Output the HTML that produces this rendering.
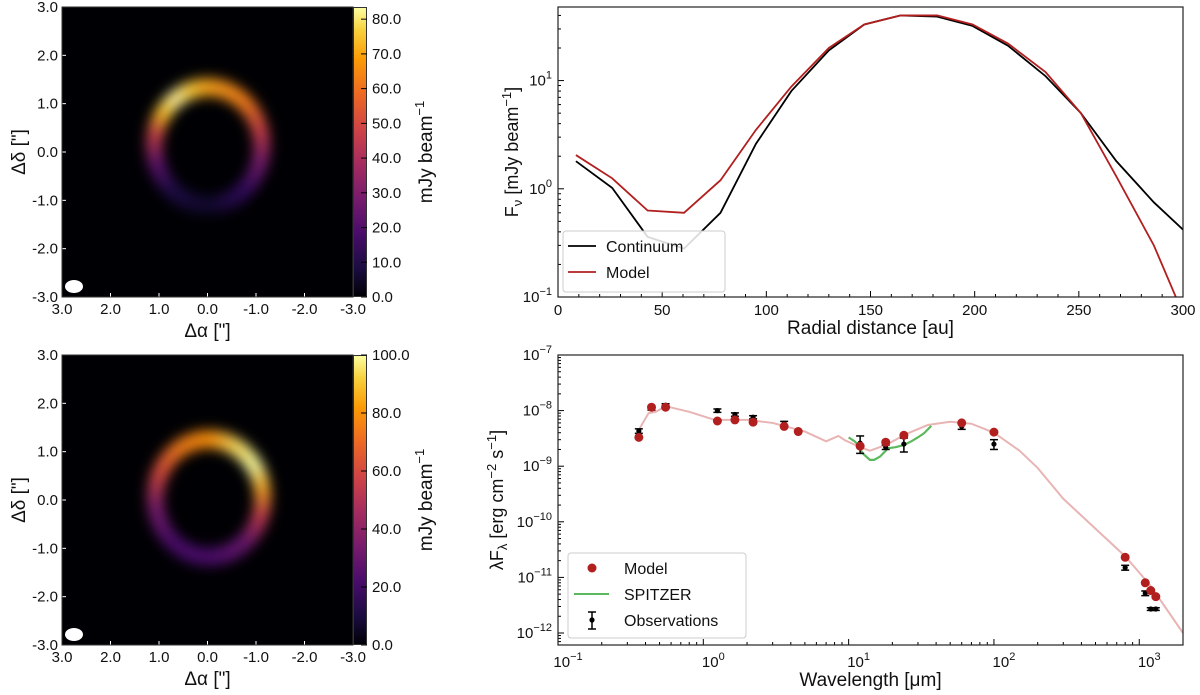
<!DOCTYPE html>
<html><head><meta charset="utf-8">
<style>
body{margin:0;background:#fff;width:1200px;height:695px;overflow:hidden;position:relative;font-family:"Liberation Sans","DejaVu Sans",sans-serif;}
.abs{position:absolute;}
.img{position:absolute;background:#000004;overflow:hidden;}
.ringwrap{position:absolute;filter:blur(6px);}
.ring{width:100%;height:100%;
 -webkit-mask:radial-gradient(ellipse closest-side,transparent 0,transparent 66%,#000 75%,#000 90%,transparent 100%);
 mask:radial-gradient(ellipse closest-side,transparent 0,transparent 66%,#000 75%,#000 90%,transparent 100%);}
.cbar{position:absolute;background:linear-gradient(to top,#000004,#1b0c41 10%,#4a0c6b 22%,#781c6d 34%,#a52c60 46%,#cf4446 58%,#ed6925 70%,#fb9b06 82%,#f7d13d 92%,#fcffa4);}
</style></head><body>

<!-- Top image -->
<div class="img" style="left:62px;top:7px;width:291px;height:290px;">
 <div class="ringwrap" style="left:81px;top:68px;width:130px;height:142px;">
  <div class="ring" style="background:conic-gradient(#f8a01a 0deg,#f17c1b 40deg,#c73e4c 75deg,#7a1d6d 105deg,#320a5e 140deg,#10092d 180deg,#1f0c48 220deg,#5c126e 250deg,#c8404a 282deg,#fbbe23 305deg,#fcf0a0 325deg,#f9c42f 345deg,#f8a01a 360deg);"></div>
 </div>
 <div class="abs" style="left:3px;top:273px;width:18px;height:13px;border-radius:50%;background:#fff;"></div>
</div>
<div class="cbar" style="left:353px;top:7px;width:14px;height:290px;"></div>
<div class="abs" style="left:353px;top:7px;width:14px;height:290px;border:1px solid #333;box-sizing:border-box"></div>

<!-- Bottom image -->
<div class="img" style="left:62px;top:355px;width:291px;height:290px;">
 <div class="ringwrap" style="left:82px;top:72px;width:130px;height:142px;">
  <div class="ring" style="background:conic-gradient(#f98e09 0deg,#fbe26a 30deg,#fcffa4 55deg,#f9a825 80deg,#c13a50 110deg,#6a176e 140deg,#4a0c6b 180deg,#4a0c6b 220deg,#7a1d6d 260deg,#d44842 295deg,#ef7a1a 330deg,#f98e09 360deg);"></div>
 </div>
 <div class="abs" style="left:3px;top:273px;width:18px;height:13px;border-radius:50%;background:#fff;"></div>
</div>
<div class="cbar" style="left:353px;top:355px;width:14px;height:290px;"></div>
<div class="abs" style="left:353px;top:355px;width:14px;height:290px;border:1px solid #333;box-sizing:border-box"></div>

<svg id="svg" width="1200" height="695" style="position:absolute;left:0;top:0" xmlns="http://www.w3.org/2000/svg"></svg>

<script>
// ---- Radial profile data ----
const radii = [8.6,26,43,60.5,78,95,112,130,147,164.5,182,199,216,234,251,268,286,300];
const contVals = [1.8,1.02,0.36,0.28,0.6,2.6,8,19,33,40,39,32,21,11,5,1.8,0.75,0.42];
const modelVals = [2.05,1.25,0.63,0.6,1.2,3.5,8.8,20,33,40,40,33,22,12,5,1.3,0.3,0.07];
const radTicks = [0,50,100,150,200,250,300];
// ---- SED data ----
const modelLam = [0.36,0.44,0.55,1.25,1.65,2.2,3.6,4.5,12,18,24,60,100,800,1100,1200,1300];
const modelF = [3.3e-9,1.15e-8,1.15e-8,6.5e-9,6.8e-9,6.2e-9,5.2e-9,4.2e-9,2.3e-9,2.7e-9,3.6e-9,6e-9,4.1e-9,2.3e-11,8e-12,5.8e-12,4.5e-12];
const obsLam = [0.36,0.44,0.55,1.25,1.65,2.2,3.6,12,18,24,60,100,800,1100,1200,1300];
const obsF = [4.3e-9,1.1e-8,1.25e-8,1.0e-8,8.5e-9,7.6e-9,5.9e-9,2.6e-9,2.2e-9,2.5e-9,5.2e-9,2.5e-9,1.5e-11,5.2e-12,2.7e-12,2.7e-12];
const obsErr = [0.4e-9,0.8e-9,0.8e-9,0.7e-9,0.6e-9,0.5e-9,0.5e-9,0.9e-9,0.2e-9,0.7e-9,0.6e-9,0.5e-9,0.15e-11,0.5e-12,0.15e-12,0.15e-12];
const curveLam = [0.36,0.42,0.47,0.55,0.8,1.2,2,3,5,7,8.5,9.5,12,14,18,25,35,50,70,100,150,200,300,500,800,1200,2000];
const curveF = [4.5e-9,9e-9,9.5e-9,1.2e-8,9.5e-9,6.8e-9,6.8e-9,6e-9,4.2e-9,2.8e-9,3.5e-9,2.9e-9,2.2e-9,1.9e-9,2.4e-9,3.8e-9,5.5e-9,6.3e-9,5.8e-9,4e-9,1.9e-9,9.3e-10,2.6e-10,7.5e-11,2.4e-11,7e-12,1e-12];
const spitLam = [10,11,11.5,12.5,14,15,16.5,18.7,21,24,27,30,33,37];
const spitF = [3.3e-9,2.8e-9,2.5e-9,1.7e-9,1.3e-9,1.3e-9,1.5e-9,2.1e-9,2.2e-9,2.4e-9,2.8e-9,3.3e-9,3.9e-9,5.3e-9];
const imgTicks = [3,2,1,0,-1,-2,-3];
const cb1Ticks = [0,10,20,30,40,50,60,70,80];
const cb2Ticks = [0,20,40,60,80,100];

const NS="http://www.w3.org/2000/svg";
const svg=document.getElementById('svg');
const FF='Liberation Sans, DejaVu Sans, sans-serif';
function el(tag,attrs,parent){const e=document.createElementNS(NS,tag);for(const k in attrs)e.setAttribute(k,attrs[k]);(parent||svg).appendChild(e);return e;}
function txt(s,x,y,size,anchor,parent){const t=el('text',{x:x,y:y,'font-size':size,'text-anchor':anchor||'middle',fill:'#111','font-family':FF},parent);t.textContent=s;return t;}
function sup(base,exp,x,y){const t=el('text',{x:x,y:y,'font-size':15,'text-anchor':'end',fill:'#111','font-family':FF});t.appendChild(document.createTextNode(base));const s=document.createElementNS(NS,'tspan');s.setAttribute('dy','-7');s.setAttribute('font-size','11');s.textContent=exp;t.appendChild(s);return t;}

// ---- image axes ----
function imageAxes(top,cbT,cbMax){
  const L=62,R=353,T=top,B=top+290;
  const xs=v=>L+(3-v)/6*(R-L), ys=v=>T+(3-v)/6*(B-T);
  imgTicks.forEach(v=>{
    el('line',{x1:xs(v),x2:xs(v),y1:B,y2:B-4,stroke:'#fff','stroke-width':1});
    el('line',{x1:L,x2:L+4,y1:ys(v),y2:ys(v),stroke:'#fff','stroke-width':1});
    const t1=txt(v.toFixed(1),xs(v),B+17,15,'middle');
    
    const t2=txt(v.toFixed(1),L-4,ys(v)+5,15,'end');
    
  });
  el('rect',{x:L,y:T,width:R-L,height:B-T,fill:'none',stroke:'#333','stroke-width':1});
  const cy=v=>B-v/cbMax*290;
  cbT.forEach(v=>{
    el('line',{x1:361,x2:367,y1:cy(v),y2:cy(v),stroke:'#000','stroke-width':1});
    const t=txt(v.toFixed(1),372,cy(v)+5,15,'start');
    
  });
  const xl=txt('Δα ["]',(L+R)/2,B+40,19,'middle');
  
  const yl=txt('Δδ ["]',0,0,19,'middle');
  yl.setAttribute('transform',`translate(25,${(T+B)/2}) rotate(-90)`);
  
  const cl=el('text',{x:0,y:0,'font-size':19,'text-anchor':'middle',fill:'#111','font-family':FF,transform:`translate(432,${(T+B)/2}) rotate(-90)`});
  cl.appendChild(document.createTextNode('mJy beam'));
  const sp=document.createElementNS(NS,'tspan');sp.setAttribute('dy','-8');sp.setAttribute('font-size','13');sp.textContent='−1';cl.appendChild(sp);
  
}
imageAxes(7,cb1Ticks,83.5);
imageAxes(355,cb2Ticks,100);

// ---- radial profile ----
{
  const L=558,R=1183,T=7,B=297;
  const yMin=-1,yMax=1.68;
  const xs=v=>L+v/300*(R-L), ys=v=>B-(Math.log10(v)-yMin)/(yMax-yMin)*(B-T);
  const cpp=el('clipPath',{id:'cp1'});
  el('rect',{x:L,y:T,width:R-L,height:B-T},cpp);
  radTicks.forEach(v=>{el('line',{x1:xs(v),x2:xs(v),y1:B,y2:B-6,stroke:'#000'});const t=txt(String(v),xs(v),B+18,15);});
  [10,20,30,40,60,70,80,90,110,120,130,140,160,170,180,190,210,220,230,240,260,270,280,290].forEach(v=>el('line',{x1:xs(v),x2:xs(v),y1:B,y2:B-3,stroke:'#000'}));
  for(let d=-1;d<=1;d++){el('line',{x1:L,x2:L+6,y1:ys(10**d),y2:ys(10**d),stroke:'#000'});const s=sup('10',String(d).replace('-','−'),L-6,ys(10**d)+5);
    for(let m=2;m<10;m++){const v=m*10**d;if(Math.log10(v)<=yMax)el('line',{x1:L,x2:L+3,y1:ys(v),y2:ys(v),stroke:'#000'});}}
  const cp=el('g',{'clip-path':'url(#cp1)'});
  const p1=el('polyline',{points:radii.map((r,i)=>xs(r)+','+ys(contVals[i])).join(' '),fill:'none',stroke:'#000','stroke-width':1.8},cp);
  
  const p2=el('polyline',{points:radii.map((r,i)=>xs(r)+','+ys(modelVals[i])).join(' '),fill:'none',stroke:'#b21f1f','stroke-width':1.8},cp);
  
  el('rect',{x:L,y:T,width:R-L,height:B-T,fill:'none',stroke:'#222','stroke-width':1.2});
  const lg=el('rect',{x:563,y:231,width:162,height:61,rx:3,fill:'#fff','fill-opacity':0.85,stroke:'#ccc'});
  
  el('line',{x1:568,x2:596,y1:246,y2:246,stroke:'#000','stroke-width':1.8});
  txt('Continuum',606,252,16,'start');
  el('line',{x1:568,x2:596,y1:272,y2:272,stroke:'#b21f1f','stroke-width':1.8});
  txt('Model',606,278,16,'start');
  txt('Radial distance [au]',(L+R)/2,B+37,19);
  const yl=el('text',{transform:`translate(518,${(T+B)/2}) rotate(-90)`,'font-size':18,'text-anchor':'middle',fill:'#111','font-family':FF});
  yl.innerHTML='F<tspan dy="4" font-size="13">ν</tspan><tspan dy="-4"> [mJy beam</tspan><tspan dy="-7" font-size="13">−1</tspan><tspan dy="7">]</tspan>';
  
}

// ---- SED ----
{
  const L=558,R=1183,T=355,B=645;
  const xMin=-1,xMax=Math.log10(2000);
  const pxDec=55.6, y7=355;
  const xs=v=>L+(Math.log10(v)-xMin)/(xMax-xMin)*(R-L), ys=v=>y7+(-7-Math.log10(v))*pxDec;
  for(let d=-1;d<=3;d++){el('line',{x1:xs(10**d),x2:xs(10**d),y1:B,y2:B-6,stroke:'#000'});const s=sup('10',String(d).replace('-','−'),xs(10**d)+10,B+22);s.setAttribute('text-anchor','middle');
    for(let m=2;m<10;m++){const v=m*10**d;if(v<=2000)el('line',{x1:xs(v),x2:xs(v),y1:B,y2:B-3,stroke:'#000'});}}
  for(let d=-12;d<=-7;d++){el('line',{x1:L,x2:L+6,y1:ys(10**d),y2:ys(10**d),stroke:'#000'});const s=sup('10',String(d).replace('-','−'),L-6,ys(10**d)+5);
    for(let m=2;m<10;m++){const v=m*10**(d-1);if(ys(v)<B)el('line',{x1:L,x2:L+3,y1:ys(v),y2:ys(v),stroke:'#000'});}}
  const c=el('polyline',{points:curveLam.map((l,i)=>xs(l)+','+ys(curveF[i])).join(' '),fill:'none',stroke:'#e8b4b4','stroke-width':2,'stroke-linejoin':'round'});
  
  const s=el('polyline',{points:spitLam.map((l,i)=>xs(l)+','+ys(spitF[i])).join(' '),fill:'none',stroke:'#5cb85c','stroke-width':2.2});
  
  obsLam.forEach((l,i)=>{
    const x=xs(l),y1=ys(obsF[i]+obsErr[i]),y2=ys(Math.max(obsF[i]-obsErr[i],obsF[i]*0.3));
    const g=el('g',{});
    
    
    el('line',{x1:x,x2:x,y1:y1,y2:y2,stroke:'#000','stroke-width':1.5},g);
    el('line',{x1:x-4,x2:x+4,y1:y1,y2:y1,stroke:'#000','stroke-width':1.5},g);
    el('line',{x1:x-4,x2:x+4,y1:y2,y2:y2,stroke:'#000','stroke-width':1.5},g);
    el('circle',{cx:x,cy:ys(obsF[i]),r:2.6,fill:'#000'},g);
  });
  modelLam.forEach((l,i)=>{const p=el('circle',{cx:xs(l),cy:ys(modelF[i]),r:4.5,fill:'#b21f1f'});
    });
  el('rect',{x:L,y:T,width:R-L,height:B-T,fill:'none',stroke:'#222','stroke-width':1.2});
  const lg=el('rect',{x:568,y:553,width:178,height:85,rx:3,fill:'#fff','fill-opacity':0.85,stroke:'#ccc'});
  
  el('circle',{cx:592,cy:568,r:4.5,fill:'#b21f1f'});
  txt('Model',624,574,16,'start');
  el('line',{x1:574,x2:609,y1:594,y2:594,stroke:'#5cb85c','stroke-width':2});
  txt('SPITZER',624,600,16,'start');
  el('line',{x1:592,x2:592,y1:612,y2:629,stroke:'#000','stroke-width':1.5});
  el('line',{x1:588,x2:596,y1:612,y2:612,stroke:'#000','stroke-width':1.5});
  el('line',{x1:588,x2:596,y1:629,y2:629,stroke:'#000','stroke-width':1.5});
  el('circle',{cx:592,cy:620,r:2.6,fill:'#000'});
  txt('Observations',624,626,16,'start');
  const xl=el('text',{x:(L+R)/2,y:686,'font-size':19,'text-anchor':'middle',fill:'#111','font-family':FF});
  xl.textContent='Wavelength [μm]';
  
  const yl=el('text',{transform:`translate(503,${(T+B)/2}) rotate(-90)`,'font-size':18,'text-anchor':'middle',fill:'#111','font-family':FF});
  yl.innerHTML='λF<tspan dy="4" font-size="13">λ</tspan><tspan dy="-4"> [erg cm</tspan><tspan dy="-7" font-size="13">−2</tspan><tspan dy="7"> s</tspan><tspan dy="-7" font-size="13">−1</tspan><tspan dy="7">]</tspan>';
  
}
</script>
</body></html>
